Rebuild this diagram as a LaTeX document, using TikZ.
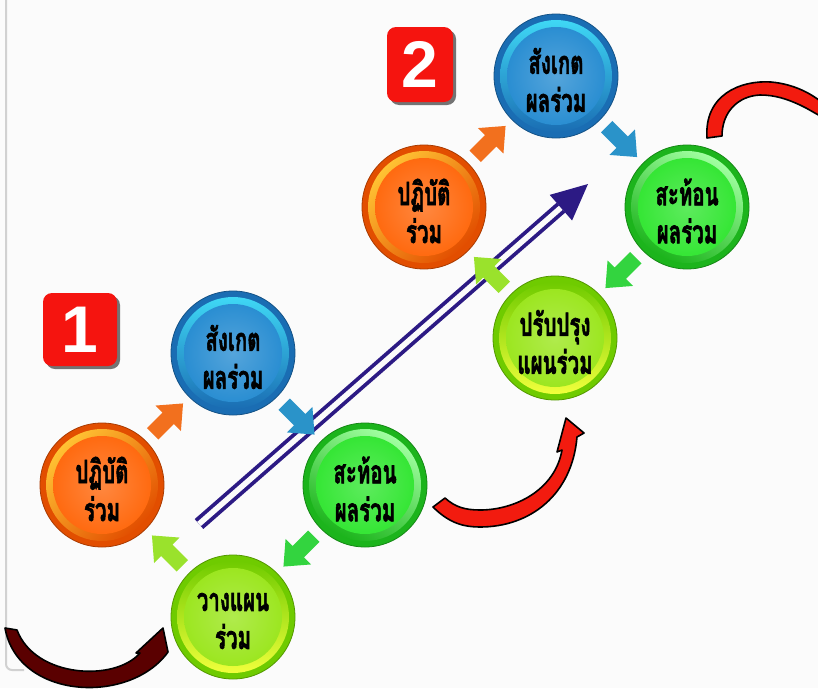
\documentclass[tikz,border=0pt]{standalone}
\usepackage{fontspec}
\setmainfont{Liberation Sans}
\newfontfamily\thaifont[Script=Thai, BoldFeatures={FakeBold=2.2}]{Loma}
\usetikzlibrary{calc}
\definecolor{bg}{HTML}{FBFBFB}
\definecolor{navy}{HTML}{2C1A84}
\definecolor{maroon}{HTML}{5A0000}
\definecolor{redA}{HTML}{F21B0F}
\definecolor{badgeRed}{HTML}{F5140F}
\definecolor{orRim}{HTML}{E24E00}
\definecolor{orHi}{HTML}{FFC233}
\definecolor{orMid}{HTML}{FF6A10}
\definecolor{blRim}{HTML}{1A6DB3}
\definecolor{blHi}{HTML}{3FD8F5}
\definecolor{blMid}{HTML}{2A8ED2}
\definecolor{grRim}{HTML}{1CB41C}
\definecolor{grHi}{HTML}{A0FFA0}
\definecolor{grMid}{HTML}{35E635}
\definecolor{liRim}{HTML}{6FCB00}
\definecolor{liHi}{HTML}{F0FF3C}
\definecolor{liMid}{HTML}{9CE620}
\definecolor{orAr}{HTML}{F2701E}
\definecolor{blAr}{HTML}{2A93C9}
\definecolor{grAr}{HTML}{33D43F}
\definecolor{liAr}{HTML}{9AE22C}

\newcommand\twolines[2]{\scalebox{0.64}[1]{#1}\\\scalebox{0.64}[1]{#2}}

\tikzset{
  btn/.style={circle, minimum size=124pt, inner sep=0pt, line width=0.8pt},
  btntext/.style={font=\thaifont\bfseries\fontsize{32}{38}\selectfont, align=center, text=black, inner sep=0pt},
  badge/.style={fill=badgeRed, rounded corners=9pt, text=white, font=\bfseries\fontsize{66}{66}\selectfont, inner sep=0pt},
  bandout/.style={draw=black, line width=1.6pt, line join=round},
}

\newcommand\button[9]{%
  \node[btn, fill=#4, draw=#4!75!black] (#1) at (#2,#3) {};
  \shade[left color=#5, right color=#4, shading angle=#7] (#1.center) circle (56pt);
  \shade[inner color=#6!80!white, outer color=#6] (#1.center) circle (49pt);
  \node[btntext] (#1-t) at ($(#1.center)+(0,4)$) {\twolines{#8}{#9}};
}

\newcommand\blockarrow[3]{%
  \begin{scope}[shift={(#1)}, rotate=#2]
    \fill[#3] (-21,-8) -- (1,-8) -- (1,-18) -- (22,0) -- (1,18) -- (1,8) -- (-21,8) -- cycle;
  \end{scope}}

\begin{document}
\begin{tikzpicture}[x=1pt,y=-1pt]
\useasboundingbox (0,0) rectangle (818,688);
\fill[bg] (0,0) rectangle (818,688);
\clip (0,0) rectangle (818,688);
% panel edge
\draw[black!18, line width=2pt, rounded corners=6pt] (6,-2) -- (6,670) -- (24,670);

% big curved arrows
\filldraw[bandout, fill=maroon] (5,628) .. controls (18,700) and (130,705) .. (168,652) -- (163,628) -- (136,653) -- (140,653) .. controls (115,682) and (35,678) .. (17,630) -- cycle;
\filldraw[bandout, fill=redA] (433,507) .. controls (450,524) and (465,527) .. (480,527) .. controls (530,527) and (572,495) .. (577,437) -- (584,433) -- (566,418) -- (557,452) -- (562,450) .. controls (555,490) and (515,510) .. (480,510) .. controls (465,510) and (455,507) .. (445,498) -- cycle;
\filldraw[bandout, fill=redA] (707,138) .. controls (704,95) and (740,80) .. (771,82) .. controls (793,84) and (812,93) .. (826,106) -- (832,100) -- (845,130) -- (806,108) -- (800,105) .. controls (787,99) and (775,95) .. (760,95) .. controls (738,96) and (722,112) .. (722,136) -- cycle;

% buttons
\button{p1}{102}{485}{orRim}{orHi}{orMid}{45}{ปฏิบัติ}{ร่วม}
\button{s1}{233}{353}{blRim}{blHi}{blMid}{0}{สังเกต}{ผลร่วม}
\button{t1}{365}{485}{grRim}{grHi}{grMid}{-30}{สะท้อน}{ผลร่วม}
\button{w1}{233}{617}{liRim}{liHi}{liMid}{180}{วางแผน}{ร่วม}
\button{p2}{424}{207}{orRim}{orHi}{orMid}{45}{ปฏิบัติ}{ร่วม}
\button{s2}{556}{76}{blRim}{blHi}{blMid}{0}{สังเกต}{ผลร่วม}
\button{t2}{687}{207}{grRim}{grHi}{grMid}{-30}{สะท้อน}{ผลร่วม}
\button{u2}{555}{338}{liRim}{liHi}{liMid}{180}{ปรับปรุง}{แผนร่วม}

% double arrow
\coordinate (dA) at (199,524);
\coordinate (dT) at (588,184);
\coordinate (dB) at ($(dT)!36pt!(dA)$);
\draw[navy, line width=3.8pt, double=bg, double distance=5.5pt] (dA) -- (dB);
\fill[navy] (dT) -- ($(dB)!17pt!90:(dT)$) -- ($(dB)!17pt!-90:(dT)$) -- cycle;

% small block arrows between steps
\coordinate (m1) at ($(p1)!0.5!(s1)$);
\coordinate (m2) at ($(s1)!0.5!(t1)$);
\coordinate (m3) at ($(t1)!0.5!(w1)$);
\coordinate (m4) at ($(w1)!0.5!(p1)$);
\coordinate (n1) at ($(p2)!0.5!(s2)$);
\coordinate (n2) at ($(s2)!0.5!(t2)$);
\coordinate (n3) at ($(t2)!0.5!(u2)$);
\coordinate (n4) at ($(u2)!0.5!(p2)$);
\blockarrow{m1}{45}{orAr}
\blockarrow{m2}{-45}{blAr}
\blockarrow{m3}{-135}{grAr}
\blockarrow{m4}{135}{liAr}
\blockarrow{n1}{45}{orAr}
\blockarrow{n2}{-45}{blAr}
\blockarrow{n3}{-135}{grAr}
\blockarrow{n4}{135}{liAr}

% badges
\fill[black!55, rounded corners=9pt] (46,296) rectangle (120,369);
\node[badge, minimum width=74pt, minimum height=73pt] (b1) at (80,329.5) {1};
\fill[black!55, rounded corners=9pt] (390,30) rectangle (456,105);
\node[badge, minimum width=66pt, minimum height=75pt] (b2) at (420,64.5) {2};
\end{tikzpicture}
\end{document}
